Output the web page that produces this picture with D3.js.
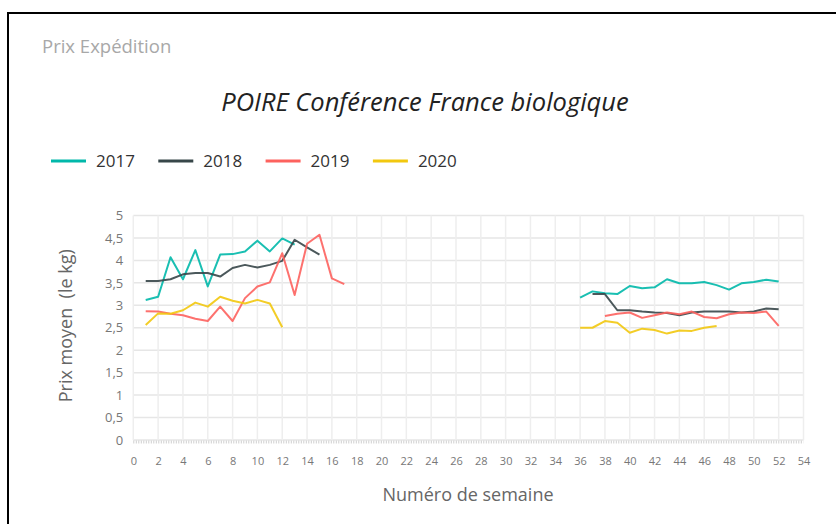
<!DOCTYPE html>
<html>
<head>
<meta charset="utf-8">
<script src="https://cdn.jsdelivr.net/npm/d3@7"></script>
<style>
  body { margin: 0; background: #fff; }
  svg { display: block; font-family: "Open Sans", "Noto Sans", sans-serif; }
</style>
</head>
<body>
<div id="chart"></div>
<script>
// weeks that have a price (early season, then late season)
var weeks = [1, 2, 3, 4, 5, 6, 7, 8, 9, 10, 11, 12, 13, 14, 15, 16, 17,
             36, 37, 38, 39, 40, 41, 42, 43, 44, 45, 46, 47, 48, 49, 50, 51, 52];

var years = ["2017", "2018", "2019", "2020"];
var colors = ["#01B8AA", "#374649", "#FD625E", "#F2C80F"];

var prix2017 = [3.12, 3.19, 4.07, 3.58, 4.23, 3.42, 4.13, 4.14, 4.20, 4.44, 4.20, 4.49, 4.35, null, null, null, null,
                3.17, 3.31, 3.27, 3.25, 3.43, 3.38, 3.40, 3.58, 3.49, 3.49, 3.52, 3.45, 3.35, 3.49, 3.52, 3.57, 3.53];
var prix2018 = [3.54, 3.54, 3.58, 3.69, 3.72, 3.72, 3.64, 3.83, 3.90, 3.84, 3.90, 3.99, 4.46, 4.29, 4.13, null, null,
                null, 3.25, 3.25, 2.89, 2.89, 2.86, 2.84, 2.83, 2.78, 2.84, 2.86, 2.86, 2.86, 2.84, 2.86, 2.93, 2.91];
var prix2019 = [2.87, 2.86, 2.81, 2.78, 2.70, 2.65, 2.97, 2.65, 3.16, 3.42, 3.51, 4.16, 3.23, 4.37, 4.57, 3.60, 3.47,
                null, null, 2.76, 2.81, 2.84, 2.72, 2.78, 2.84, 2.80, 2.86, 2.74, 2.71, 2.80, 2.84, 2.83, 2.86, 2.54];
var prix2020 = [2.56, 2.82, 2.81, 2.89, 3.06, 2.97, 3.19, 3.10, 3.04, 3.12, 3.04, 2.51, null, null, null, null, null,
                2.50, 2.50, 2.65, 2.61, 2.39, 2.48, 2.45, 2.37, 2.44, 2.43, 2.50, 2.54, null, null, null, null, null];

var yTicks = [0, 0.5, 1, 1.5, 2, 2.5, 3, 3.5, 4, 4.5, 5];
var xTicks = d3.range(0, 55, 2);

var width = 836, height = 524;
var svg = d3.select("#chart").append("svg")
    .attr("width", width)
    .attr("height", height);

// frame (top and left edges of the visual)
svg.append("line").attr("x1", 7).attr("x2", width).attr("y1", 13).attr("y2", 13)
    .attr("stroke", "#000").attr("stroke-width", 2);
svg.append("line").attr("x1", 8).attr("x2", 8).attr("y1", 12).attr("y2", height)
    .attr("stroke", "#000").attr("stroke-width", 2);

svg.append("text")
    .attr("x", 42).attr("y", 53)
    .attr("fill", "#a8a8a8")
    .style("font-size", "18.5px")
    .text("Prix Expédition");

svg.append("text")
    .attr("x", 425).attr("y", 111)
    .attr("text-anchor", "middle")
    .attr("fill", "#222")
    .style("font-size", "25.5px")
    .style("font-style", "italic")
    .text("POIRE Conférence France biologique");

var x = d3.scaleLinear().domain([0, 54]).range([133.3, 803.5]);
var y = d3.scaleLinear().domain([0, 5]).range([440, 215.5]);

// gridlines
var grid = svg.append("g");
grid.selectAll(".hg").data(yTicks).enter().append("line")
    .attr("x1", x(0)).attr("x2", x(54))
    .attr("y1", function (d) { return y(d); })
    .attr("y2", function (d) { return y(d); })
    .attr("stroke", "#e6e6e6").attr("stroke-width", 1.5);
grid.selectAll(".vg").data(xTicks).enter().append("line")
    .attr("y1", y(0)).attr("y2", y(5))
    .attr("x1", function (d) { return x(d); })
    .attr("x2", function (d) { return x(d); })
    .attr("stroke", "#eeeeee").attr("stroke-width", 1.5);

// little ticks under the plot
svg.append("line")
    .attr("x1", x(0)).attr("x2", x(54))
    .attr("y1", y(0) + 2).attr("y2", y(0) + 2)
    .attr("stroke", "#cfcfcf").attr("stroke-width", 3)
    .attr("stroke-dasharray", "1,1.5");

// y axis
var yAxis = svg.append("g")
    .attr("transform", "translate(" + x(0) + ",0)")
    .call(d3.axisLeft(y).tickValues(yTicks).tickSize(0).tickPadding(10)
        .tickFormat(function (d) { return String(d).replace(".", ","); }));
yAxis.select(".domain").remove();
yAxis.selectAll("text")
    .attr("fill", "#777")
    .style("font-size", "13px")
    .style("font-family", "'Open Sans', sans-serif");

// x axis
var xAxis = svg.append("g")
    .attr("transform", "translate(0," + y(0) + ")")
    .call(d3.axisBottom(x).tickValues(xTicks).tickSize(0).tickPadding(17));
xAxis.select(".domain").remove();
xAxis.selectAll("text")
    .attr("fill", "#777")
    .style("font-size", "11px")
    .style("font-family", "'Open Sans', sans-serif");

svg.append("text")
    .attr("transform", "translate(72," + (y(2.5) - 2) + ")rotate(-90)")
    .attr("text-anchor", "middle")
    .attr("fill", "#666")
    .style("font-size", "18px")
    .style("white-space", "pre")
    .text("Prix moyen  (le kg)");

svg.append("text")
    .attr("x", 468).attr("y", 501)
    .attr("text-anchor", "middle")
    .attr("fill", "#666")
    .style("font-size", "18px")
    .text("Numéro de semaine");

// series
var series = [prix2017, prix2018, prix2019, prix2020];
var line = d3.line()
    .defined(function (d) { return d != null; })
    .x(function (d, i) { return x(weeks[i]); })
    .y(function (d) { return y(d); });

svg.append("g").selectAll("path")
    .data(series)
    .enter().append("path")
    .attr("fill", "none")
    .attr("stroke", function (d, i) { return colors[i]; })
    .attr("stroke-width", 2)
    .attr("stroke-opacity", 0.9)
    .attr("stroke-linejoin", "round")
    .attr("d", line);

// legend
var legend = svg.append("g")
    .selectAll("g")
    .data(years)
    .enter().append("g")
    .attr("transform", function (d, i) { return "translate(" + (51 + i * 107.3) + ",161)"; });

legend.append("line")
    .attr("x1", 0).attr("x2", 35)
    .attr("stroke", function (d, i) { return colors[i]; })
    .attr("stroke-width", 3);

legend.append("text")
    .attr("x", 45)
    .attr("dy", "0.35em")
    .attr("fill", "#333")
    .style("font-size", "17px")
    .text(function (d) { return d; });
</script>
</body>
</html>
